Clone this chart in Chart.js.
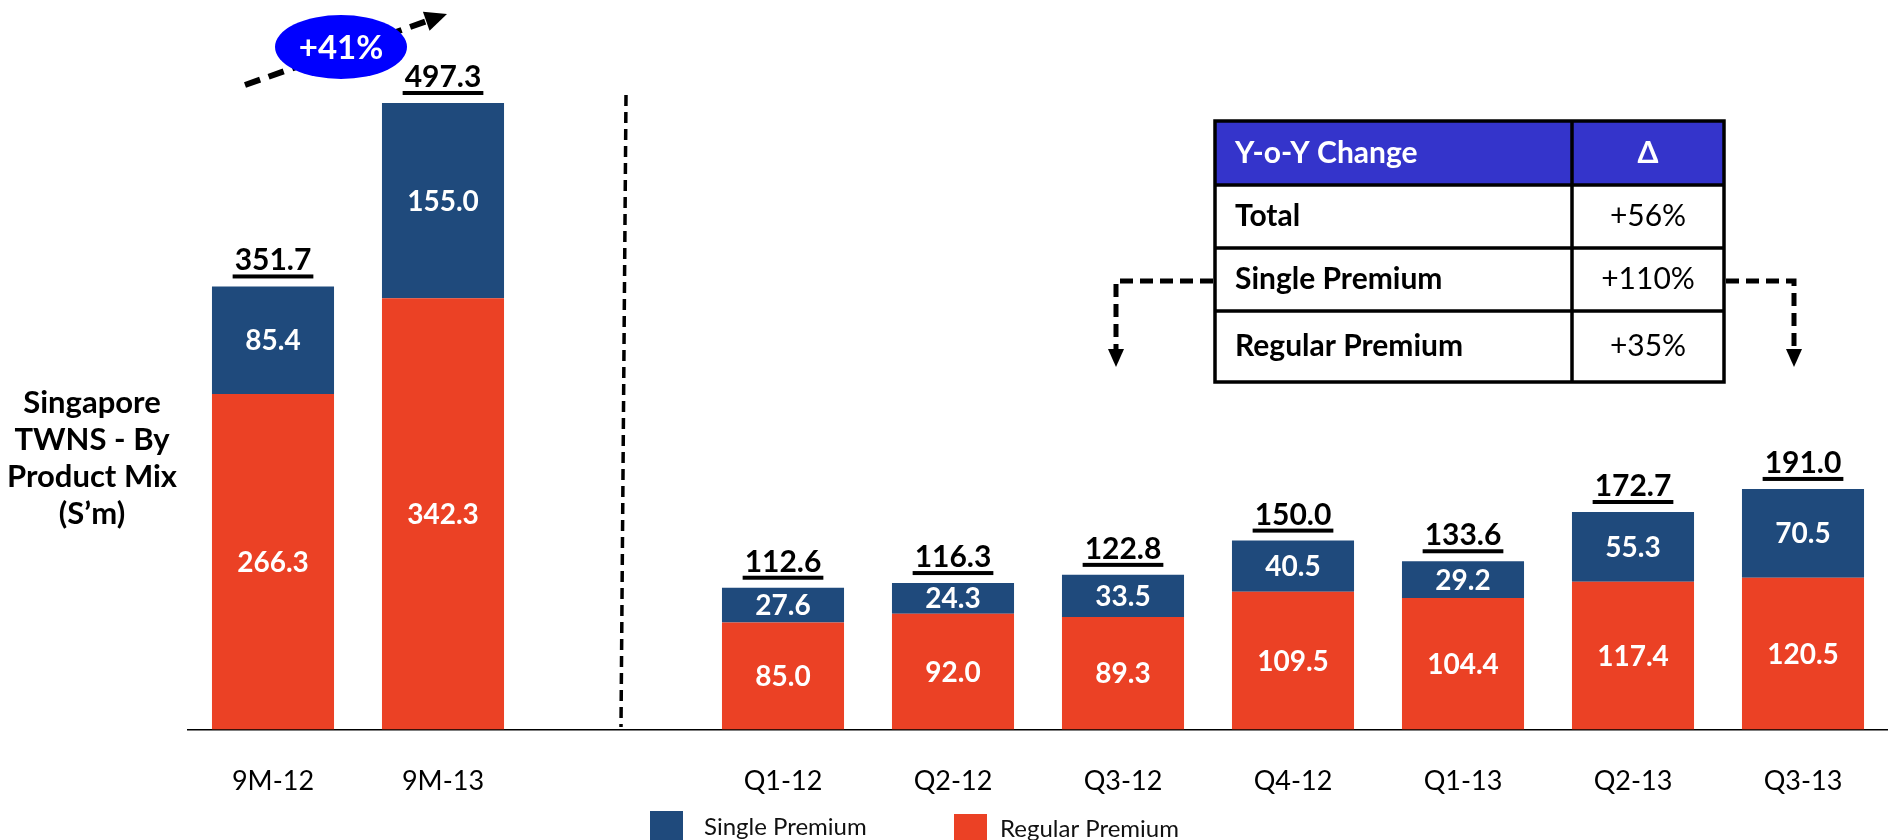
<!DOCTYPE html>
<html>
<head>
<meta charset="utf-8">
<script src="https://cdn.jsdelivr.net/npm/chart.js@4"></script>
<style>
  html, body { margin: 0; padding: 0; background: #fff; overflow: hidden; }
  #wrap { position: relative; width: 1888px; height: 840px; }
</style>
</head>
<body>
<div id="wrap"><canvas id="twnsChart"></canvas></div>
<script>
const categories = ['9M-12', '9M-13', '', 'Q1-12', 'Q2-12', 'Q3-12', 'Q4-12', 'Q1-13', 'Q2-13', 'Q3-13'];
const singlePremium = [85.4, 155.0, null, 27.6, 24.3, 33.5, 40.5, 29.2, 55.3, 70.5];
const regularPremium = [266.3, 342.3, null, 85.0, 92.0, 89.3, 109.5, 104.4, 117.4, 120.5];
const totals = [351.7, 497.3, null, 112.6, 116.3, 122.8, 150.0, 133.6, 172.7, 191.0];
const yoyRows = ['Total', 'Single Premium', 'Regular Premium'];
const yoyChange = ['+56%', '+110%', '+35%'];
const growthLabel = '+41%';
const axisTitle = ['Singapore', 'TWNS - By', 'Product Mix', '(S\u2019m)'];

const BLUE = '#1F4A7C';
const RED = '#EB4125';
const FONT = 'Lato, "Open Sans", sans-serif';

// values inside each segment, underlined totals on top
const barLabels = {
    id: 'barLabels',
    afterDatasetsDraw(chart) {
        const ctx = chart.ctx;
        ctx.save();
        ctx.textAlign = 'center';
        ctx.textBaseline = 'middle';
        ctx.fillStyle = '#fff';
        ctx.font = 'bold 28px ' + FONT;
        chart.data.datasets.forEach((ds, i) => {
            chart.getDatasetMeta(i).data.forEach((bar, j) => {
                if (ds.data[j] == null) return;
                ctx.fillText(ds.data[j].toFixed(1), bar.x, (bar.y + bar.base) / 2 + 1);
            });
        });
        const topMeta = chart.getDatasetMeta(1);
        ctx.fillStyle = '#000';
        ctx.textBaseline = 'alphabetic';
        ctx.font = 'bold 30px ' + FONT;
        topMeta.data.forEach((bar, j) => {
            if (totals[j] == null) return;
            const txt = totals[j].toFixed(1);
            const w = ctx.measureText(txt).width + 4;
            ctx.fillText(txt, bar.x, bar.y - 16);
            ctx.fillRect(bar.x - w / 2, bar.y - 12, w, 4);
        });
        ctx.restore();
    }
};

function dashedPath(ctx, pts, width, dash) {
    ctx.save();
    ctx.strokeStyle = '#000';
    ctx.lineWidth = width;
    ctx.setLineDash(dash);
    ctx.beginPath();
    ctx.moveTo(pts[0][0], pts[0][1]);
    for (let k = 1; k < pts.length; k++) ctx.lineTo(pts[k][0], pts[k][1]);
    ctx.stroke();
    ctx.restore();
}

function arrowHead(ctx, tipX, tipY, dx, dy, len, half) {
    const n = Math.hypot(dx, dy);
    const ux = dx / n, uy = dy / n;
    const bx = tipX - ux * len, by = tipY - uy * len;
    ctx.beginPath();
    ctx.moveTo(tipX, tipY);
    ctx.lineTo(bx - uy * half, by + ux * half);
    ctx.lineTo(bx + uy * half, by - ux * half);
    ctx.closePath();
    ctx.fillStyle = '#000';
    ctx.fill();
}

const annotations = {
    id: 'annotations',
    afterDraw(chart) {
        const ctx = chart.ctx;
        const xs = chart.scales.x;

        // separator between 9M and quarterly bars
        const sepX = xs.getPixelForValue(2) + 10;
        dashedPath(ctx, [[sepX + 3, 95], [sepX - 2, 727]], 3.5, [11, 6]);

        // growth arrow with +41% bubble
        dashedPath(ctx, [[245, 85], [430, 20]], 6, [16, 9]);
        arrowHead(ctx, 447, 14, 202, -71, 22, 10);
        ctx.save();
        ctx.fillStyle = '#0000FF';
        ctx.beginPath();
        ctx.ellipse(341, 47, 66, 32, 0, 0, Math.PI * 2);
        ctx.fill();
        ctx.fillStyle = '#fff';
        ctx.font = 'bold 33px ' + FONT;
        ctx.textAlign = 'center';
        ctx.textBaseline = 'middle';
        ctx.fillText(growthLabel, 341, 48);
        ctx.restore();

        // y-o-y table
        const tL = 1215, tR = 1724, tM = 1572;
        const rows = [121, 185, 248, 311, 382];
        ctx.save();
        ctx.fillStyle = '#3434CB';
        ctx.fillRect(tL, rows[0], tR - tL, rows[1] - rows[0]);
        ctx.strokeStyle = '#000';
        ctx.lineWidth = 3.5;
        ctx.strokeRect(tL, rows[0], tR - tL, rows[4] - rows[0]);
        ctx.beginPath();
        for (let r = 1; r < 4; r++) { ctx.moveTo(tL, rows[r]); ctx.lineTo(tR, rows[r]); }
        ctx.moveTo(tM, rows[0]); ctx.lineTo(tM, rows[4]);
        ctx.stroke();
        ctx.textBaseline = 'middle';
        ctx.font = 'bold 30px ' + FONT;
        ctx.fillStyle = '#fff';
        ctx.textAlign = 'left';
        ctx.fillText('Y-o-Y Change', tL + 20, (rows[0] + rows[1]) / 2);
        ctx.textAlign = 'center';
        ctx.fillText('\u0394', (tM + tR) / 2, (rows[0] + rows[1]) / 2);
        ctx.fillStyle = '#000';
        yoyRows.forEach((name, r) => {
            const cy = (rows[r + 1] + rows[r + 2]) / 2;
            ctx.font = 'bold 30px ' + FONT;
            ctx.textAlign = 'left';
            ctx.fillText(name, tL + 20, cy);
            ctx.font = '30px ' + FONT;
            ctx.textAlign = 'center';
            ctx.fillText(yoyChange[r], (tM + tR) / 2, cy);
        });
        ctx.restore();

        // connectors from the table down to the two compared quarters
        dashedPath(ctx, [[tL - 2, 281], [1116, 281], [1116, 352]], 5, [13, 7]);
        arrowHead(ctx, 1116, 367, 0, 1, 18, 8);
        dashedPath(ctx, [[tR + 2, 281], [1794, 281], [1794, 352]], 5, [13, 7]);
        arrowHead(ctx, 1794, 367, 0, 1, 18, 8);

        // axis title on the left
        ctx.save();
        ctx.fillStyle = '#000';
        ctx.font = 'bold 31px ' + FONT;
        ctx.textAlign = 'center';
        ctx.textBaseline = 'middle';
        axisTitle.forEach((line, k) => ctx.fillText(line, 92, 403 + k * 37));
        ctx.restore();

        // legend along the bottom edge
        ctx.save();
        ctx.font = '24px ' + FONT;
        ctx.textBaseline = 'middle';
        ctx.textAlign = 'left';
        const legendAt = [[650, 704], [954, 1000]];
        [1, 0].forEach((dsIdx, k) => {
            const ds = chart.data.datasets[dsIdx];
            ctx.fillStyle = ds.backgroundColor;
            ctx.fillRect(legendAt[k][0], 811 + k * 3, 33, 33);
            ctx.fillStyle = '#111';
            ctx.fillText(ds.label, legendAt[k][1], 827 + k * 2);
        });
        ctx.restore();
    }
};

new Chart(document.getElementById('twnsChart'), {
    type: 'bar',
    data: {
        labels: categories,
        datasets: [{
            label: 'Regular Premium',
            data: regularPremium,
            backgroundColor: RED,
            borderWidth: 0,
            barPercentage: 0.718,
            categoryPercentage: 1.0
        }, {
            label: 'Single Premium',
            data: singlePremium,
            backgroundColor: BLUE,
            borderWidth: 0,
            barPercentage: 0.718,
            categoryPercentage: 1.0
        }]
    },
    options: {
        responsive: true,
        maintainAspectRatio: false,
        animation: false,
        layout: { padding: { top: 24, left: 188, right: 0, bottom: 8 } },
        plugins: {
            legend: { display: false },
            tooltip: { enabled: false }
        },
        scales: {
            x: {
                stacked: true,
                grid: { display: false, drawTicks: false },
                border: { display: true, color: '#000', width: 1.5 },
                ticks: {
                    color: '#000',
                    font: { family: FONT, size: 27 },
                    padding: 35,
                    maxRotation: 0,
                    autoSkip: false
                }
            },
            y: {
                stacked: true,
                display: false,
                min: 0,
                max: 560
            }
        }
    },
    plugins: [barLabels, annotations]
});
</script>
</body>
</html>
